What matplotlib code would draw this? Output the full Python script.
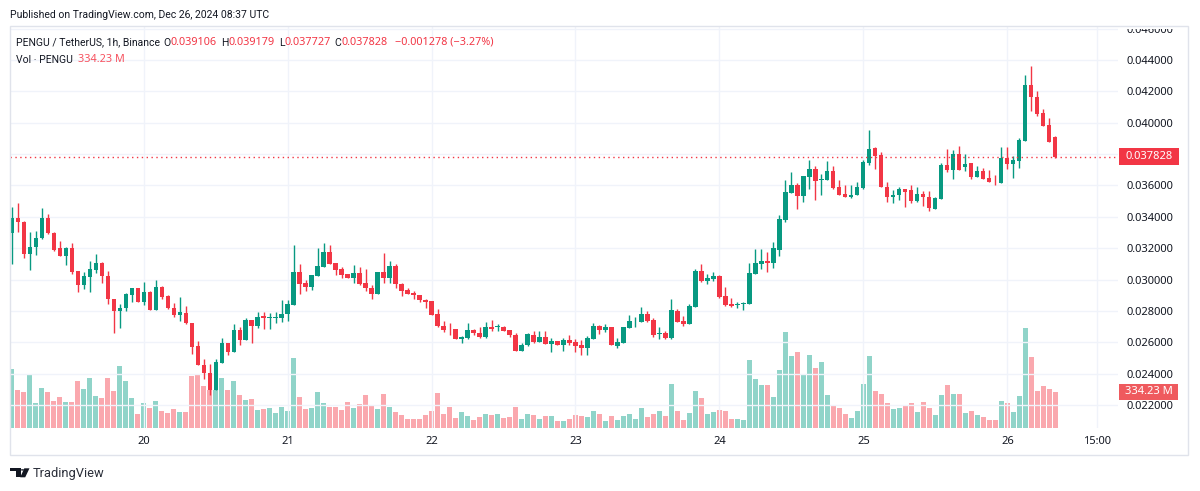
import numpy as np
import pandas as pd
import matplotlib
matplotlib.use("Agg")
import matplotlib.pyplot as plt
import matplotlib.dates as mdates
from matplotlib.patches import Rectangle, Polygon, Circle
from matplotlib.transforms import IdentityTransform

plt.rcParams['font.family'] = ['Noto Sans', 'DejaVu Sans']

# hourly candles, PENGU/USDT (Binance), Dec 19 02:00 -> Dec 26 08:00 UTC
times = pd.date_range("2024-12-19 02:00", periods=175, freq="h")

opens = np.array([
    32.95, 33.90, 33.70, 31.62, 32.06, 32.63, 33.94, 32.99, 32.00, 31.50,
    32.04, 30.52, 29.66, 30.15, 30.61, 31.05, 30.20, 28.74, 28.02, 28.21,
    29.00, 29.43, 28.59, 29.22, 28.08, 29.52, 28.95, 28.17, 27.71, 27.88,
    27.24, 25.74, 24.55, 24.03, 22.97, 24.70, 25.95, 25.40, 26.78, 26.14,
    27.41, 27.05, 27.65, 27.56, 27.57, 27.56, 27.80, 28.39, 30.47, 29.79,
    29.54, 30.24, 30.80, 31.75, 31.05, 30.66, 30.38, 30.13, 30.43, 29.79,
    29.47, 29.10, 30.50, 30.13, 30.88, 29.73, 29.35, 29.16, 29.03, 28.71,
    28.65, 27.80, 27.06, 26.85, 26.85, 26.19, 26.28, 26.78, 26.61, 26.32,
    27.00, 26.98, 27.00, 26.78, 26.49, 25.43, 25.81, 26.47, 26.04, 26.32,
    25.92, 26.09, 25.85, 26.15, 26.00, 25.83, 25.66, 26.23, 27.04, 26.78,
    26.97, 25.77, 25.98, 26.93, 27.33, 27.31, 27.82, 27.44, 26.55, 26.59,
    26.28, 28.01, 27.35, 27.18, 28.27, 30.55, 29.89, 30.03, 30.24, 28.95,
    28.46, 28.36, 28.46, 28.46, 30.37, 30.97, 31.20, 31.05, 31.90, 33.81,
    35.52, 36.01, 35.33, 36.54, 37.03, 36.35, 36.37, 36.90, 35.89, 35.44,
    35.27, 35.40, 35.82, 37.43, 38.37, 37.93, 35.93, 35.25, 35.37, 35.80,
    35.68, 34.99, 35.48, 35.29, 34.47, 35.12, 37.28, 36.98, 37.99, 37.18,
    37.41, 36.57, 36.90, 36.47, 36.25, 36.15, 37.76, 37.37, 37.56, 38.83,
    42.43, 41.66, 40.63, 39.86, 39.106]) / 1000

highs = np.array([
    34.65, 34.90, 33.75, 33.05, 33.10, 34.57, 34.20, 33.05, 32.46, 32.10,
    32.36, 30.52, 30.46, 31.20, 31.66, 31.10, 30.52, 28.78, 28.42, 29.14,
    29.43, 29.43, 29.87, 29.28, 29.96, 29.58, 29.00, 28.50, 28.89, 28.30,
    27.24, 26.08, 24.95, 24.60, 24.95, 26.30, 25.95, 27.16, 26.99, 27.55,
    27.41, 27.90, 27.93, 27.87, 27.94, 28.68, 28.68, 32.20, 30.97, 30.00,
    30.28, 32.00, 32.35, 32.20, 31.05, 30.80, 30.38, 30.94, 30.81, 30.68,
    29.67, 30.50, 31.70, 31.20, 31.00, 29.77, 29.43, 29.24, 29.03, 28.78,
    28.65, 28.12, 27.38, 27.23, 26.85, 26.40, 27.23, 26.87, 26.95, 27.31,
    27.42, 27.19, 27.06, 26.78, 26.61, 25.94, 26.61, 26.73, 26.72, 26.72,
    26.26, 26.09, 26.30, 26.49, 26.19, 26.15, 26.40, 27.25, 27.12, 27.19,
    26.97, 26.30, 26.97, 27.76, 27.60, 28.26, 27.99, 27.52, 26.99, 26.72,
    28.75, 28.10, 27.65, 28.46, 30.68, 30.97, 30.34, 30.48, 30.29, 29.54,
    28.82, 28.57, 28.57, 31.05, 31.96, 31.96, 31.75, 32.39, 34.12, 36.33,
    36.86, 36.14, 36.63, 37.60, 37.22, 36.71, 37.54, 37.22, 36.37, 36.01,
    36.01, 36.25, 37.60, 39.51, 38.45, 38.12, 36.25, 35.68, 35.93, 35.80,
    36.00, 35.87, 35.65, 35.63, 35.25, 37.41, 38.31, 38.25, 38.50, 37.99,
    37.41, 37.22, 37.11, 36.96, 36.64, 38.44, 38.44, 37.90, 39.02, 43.07,
    43.61, 42.04, 40.86, 40.28, 39.179]) / 1000

lows = np.array([
    30.97, 33.05, 31.37, 30.60, 31.56, 32.57, 32.90, 31.83, 31.50, 30.93,
    30.36, 29.22, 29.41, 29.22, 30.40, 29.79, 28.46, 26.60, 26.88, 28.00,
    28.59, 28.59, 28.38, 28.08, 28.08, 28.76, 28.13, 27.58, 27.37, 27.16,
    25.27, 24.55, 23.68, 22.65, 22.97, 24.70, 25.20, 25.40, 25.82, 26.14,
    25.97, 26.90, 26.85, 26.84, 27.26, 27.30, 27.37, 28.39, 29.10, 29.30,
    29.35, 30.24, 30.80, 31.00, 30.30, 30.10, 30.13, 29.80, 29.67, 29.30,
    28.73, 29.10, 29.80, 29.77, 29.43, 28.92, 29.05, 28.73, 28.54, 28.18,
    27.76, 26.96, 26.66, 26.44, 26.19, 25.94, 26.23, 26.49, 26.27, 26.27,
    26.74, 26.70, 26.70, 26.36, 25.43, 25.43, 25.77, 25.96, 26.00, 25.92,
    25.41, 25.85, 25.47, 25.85, 25.37, 25.22, 25.22, 26.19, 26.55, 26.64,
    25.81, 25.64, 25.98, 26.93, 27.00, 27.31, 27.29, 26.36, 26.19, 26.23,
    26.23, 27.31, 27.04, 27.18, 28.27, 29.85, 29.72, 29.90, 28.84, 28.34,
    28.27, 28.20, 28.08, 28.42, 30.37, 30.65, 30.48, 30.75, 31.52, 33.68,
    35.52, 34.49, 34.95, 35.78, 35.08, 35.40, 36.37, 35.78, 35.40, 35.27,
    35.20, 35.40, 35.78, 37.31, 37.05, 35.89, 34.92, 34.86, 35.07, 34.60,
    34.86, 34.93, 34.67, 34.39, 34.47, 35.12, 36.83, 36.40, 36.96, 36.90,
    36.38, 36.53, 36.40, 36.21, 36.04, 36.15, 37.05, 36.47, 37.13, 38.83,
    40.76, 40.43, 39.81, 38.74, 37.727]) / 1000

closes = np.array([
    33.90, 33.64, 31.62, 32.10, 32.67, 33.94, 32.95, 31.87, 31.50, 32.04,
    30.48, 29.66, 30.20, 30.65, 31.05, 30.20, 28.74, 28.02, 28.17, 29.05,
    29.43, 28.59, 29.18, 28.08, 29.54, 28.91, 28.17, 27.71, 27.90, 27.22,
    25.70, 24.55, 24.03, 22.97, 24.74, 25.95, 25.40, 26.78, 26.16, 27.41,
    27.05, 27.60, 27.56, 27.60, 27.59, 27.80, 28.43, 30.47, 29.70, 29.54,
    30.28, 30.86, 31.75, 31.00, 30.62, 30.28, 30.13, 30.43, 29.71, 29.43,
    29.10, 30.50, 30.13, 30.88, 29.69, 29.30, 29.10, 28.99, 28.67, 28.59,
    27.76, 27.02, 26.80, 26.82, 26.19, 26.36, 26.78, 26.57, 26.32, 27.00,
    26.87, 27.02, 26.74, 26.44, 25.43, 25.85, 26.55, 26.00, 26.32, 25.92,
    26.09, 25.85, 26.15, 25.98, 25.77, 25.66, 26.28, 27.04, 26.78, 26.97,
    25.85, 26.02, 26.97, 27.36, 27.36, 27.82, 27.38, 26.49, 26.57, 26.28,
    28.05, 27.31, 27.18, 28.31, 30.55, 29.89, 30.08, 30.24, 28.89, 28.40,
    28.34, 28.46, 28.52, 30.41, 31.05, 31.20, 31.05, 32.00, 33.85, 35.57,
    36.01, 35.33, 36.59, 37.03, 36.29, 36.37, 36.90, 35.82, 35.40, 35.27,
    35.38, 35.89, 37.48, 38.30, 37.86, 35.89, 35.25, 35.42, 35.80, 35.57,
    34.99, 35.48, 35.25, 34.54, 35.18, 37.28, 36.98, 37.99, 36.96, 37.35,
    36.53, 36.90, 36.40, 36.21, 36.21, 37.76, 37.37, 37.65, 38.89, 42.43,
    41.61, 40.58, 39.81, 38.74, 37.828]) / 1000

# volume in millions of PENGU
volumes = np.array([
    552, 354, 336, 496, 232, 373, 336, 251, 289, 242,
    242, 439, 364, 467, 298, 279, 467, 345, 580, 439,
    279, 129, 232, 185, 251, 157, 138, 176, 147, 147,
    486, 505, 392, 354, 354, 467, 354, 439, 307, 260,
    270, 166, 176, 185, 138, 194, 157, 656, 289, 176,
    185, 336, 232, 194, 194, 166, 242, 185, 223, 307,
    210, 176, 317, 194, 147, 119, 82, 82, 82, 119,
    157, 326, 129, 194, 91, 147, 110, 72, 100, 129,
    119, 129, 91, 100, 194, 82, 129, 119, 82, 110,
    110, 63, 63, 82, 119, 110, 100, 157, 129, 63,
    110, 72, 110, 129, 82, 185, 100, 129, 157, 110,
    411, 157, 72, 138, 345, 279, 129, 147, 166, 157,
    82, 82, 72, 637, 458, 402, 402, 289, 543, 900,
    675, 712, 496, 684, 562, 618, 307, 204, 185, 129,
    91, 157, 411, 675, 345, 317, 232, 176, 185, 213,
    232, 147, 242, 185, 119, 307, 402, 317, 317, 138,
    157, 119, 100, 72, 72, 251, 232, 147, 298, 938,
    662, 345, 392, 364, 334.23])

price_ticks = [0.022, 0.024, 0.026, 0.028, 0.030, 0.032, 0.034,
               0.036, 0.038, 0.040, 0.042, 0.044, 0.046]
time_ticks = pd.to_datetime(["2024-12-20 00:00", "2024-12-21 00:00", "2024-12-22 00:00",
                             "2024-12-23 00:00", "2024-12-24 00:00", "2024-12-25 00:00",
                             "2024-12-26 00:00", "2024-12-26 15:00"])
time_labels = ["20", "21", "22", "23", "24", "25", "26", "15:00"]

UP = '#089981'
DOWN = '#F23645'
TXT = '#131722'
GRID = '#f0f3fa'
LBL_FONT = ['Roboto', 'DejaVu Sans']
NUM_FONT = ['Noto Sans', 'DejaVu Sans']

W, H = 1200, 491
fig = plt.figure(figsize=(12, 4.91), dpi=100)
fig.patch.set_facecolor('white')
px = IdentityTransform()   # display pixels, origin bottom-left

def fx(x):
    return x / W

def fy(y):
    return 1 - y / H

ax = fig.add_axes([fx(10), fy(427.5), fx(1118) - fx(10), fy(26) - fy(427.5)])
axv = ax.twinx()
ax.set_zorder(2)
axv.set_zorder(1)
ax.patch.set_visible(False)

x = mdates.date2num(times)
hour = 1 / 24
up = closes >= opens
last = closes[-1]

# volume underneath
vcol = np.where(up, '#22ab94', '#f7525f')
axv.bar(x, volumes, width=0.78 * hour, color=vcol, alpha=0.5, linewidth=0)
axv.set_ylim(0, 3780)
axv.set_yticks([])
for s in axv.spines.values():
    s.set_visible(False)

# candles
ccol = np.where(up, UP, DOWN)
ax.vlines(x, lows, highs, colors=ccol, linewidth=1, zorder=3)
body = np.maximum(np.abs(closes - opens), 0.00003)
ax.bar(x, body, bottom=np.minimum(opens, closes), width=0.7 * hour,
       color=ccol, linewidth=0, zorder=4)

ax.set_xlim(x[0] - 0.28 * hour, x[0] + 184.45 * hour)
ax.set_ylim(0.020565, 0.046168)

ax.set_yticks(price_ticks)
ax.yaxis.tick_right()
# the price scale hides a tick label that sits under the last-price marker
ax.yaxis.set_major_formatter(plt.FuncFormatter(
    lambda v, p: '' if abs(v - last) < 0.0005 else f"{v:.6f}"))
ax.set_xticks(mdates.date2num(time_ticks))
ax.set_xticklabels(time_labels)
ax.tick_params(axis='both', length=0, labelsize=8, colors=TXT)
ax.tick_params(axis='y', pad=6)
ax.tick_params(axis='x', pad=6)
ax.grid(True, color=GRID, linewidth=1, zorder=0)
ax.set_axisbelow(True)
for s in ax.spines.values():
    s.set_visible(False)

ax.axhline(last, color=DOWN, linewidth=1, linestyle=(0, (1, 2.5)), zorder=5)

# mask above the panel so the top price label is cut like in TradingView
fig.add_artist(Rectangle((1119, H - 28.6), 70, 28.6, transform=px, fc='white', ec='none', zorder=5))

# price-scale markers
yl = ax.transData.transform((x[0], last))[1]
fig.add_artist(Rectangle((1119, yl - 8.5), 60, 17, transform=px, fc=DOWN, ec='none', zorder=6))
fig.text(1149, yl, f"{last:.6f}", transform=px, ha='center', va='center', color='white',
         fontsize=8, fontweight='bold', zorder=7)
yv = axv.transData.transform((x[0], volumes[-1]))[1]
fig.add_artist(Rectangle((1119, yv - 8), 59, 16, transform=px, fc='#ef5a5e', ec='none', zorder=6))
fig.text(1148.5, yv, f"{volumes[-1]:.2f} M", transform=px, ha='center', va='center',
         color='white', fontsize=8, fontweight='bold', zorder=7)

# panel frame
fig.add_artist(Rectangle((fx(10), fy(455)), fx(1188) - fx(10), fy(26) - fy(455),
                         transform=fig.transFigure, fill=False, ec='#e0e3eb', lw=1, zorder=8))

# header
renderer = fig.canvas.get_renderer()

def chain(pieces, x0, y):
    cx = x0
    for s, gap, c, fam, size in pieces:
        cx += gap
        t = fig.text(fx(cx), fy(y), s, fontsize=size, color=c, va='center', family=fam)
        cx += t.get_window_extent(renderer).width

fig.text(fx(10), fy(14.5), "Published on TradingView.com, Dec 26, 2024 08:37 UTC",
         fontsize=7.5, color=TXT, va='center', family=LBL_FONT)
chg = closes[-1] - opens[-1]
pct = chg / opens[-1] * 100
L = (LBL_FONT, 7.5)
N = (NUM_FONT, 7.8)
chain([("PENGU / TetherUS, 1h, Binance", 0, TXT, *L),
       ("O", 3, TXT, *L), (f"{opens[-1]:.6f}", 0, DOWN, *N),
       ("H", 4.5, TXT, *L), (f"{highs[-1]:.6f}", 0, DOWN, *N),
       ("L", 4.5, TXT, *L), (f"{lows[-1]:.6f}", 0, DOWN, *N),
       ("C", 4, TXT, *L), (f"{closes[-1]:.6f}", 0, DOWN, *N),
       (f"\u2212{abs(chg):.6f} (\u2212{abs(pct):.2f}%)", 7, DOWN, *N)], 16, 42.5)
chain([("Vol \u00b7 PENGU", 0, TXT, *L), (f"{volumes[-1]:.2f} M", 5, '#f7525f', *N)], 16, 60)

# TradingView logo
logo = '#131722'
fig.add_artist(Rectangle((fx(10), fy(471.3)), fx(20.7) - fx(10), fy(468.3) - fy(471.3),
                         transform=fig.transFigure, fc=logo, ec='none'))
fig.add_artist(Rectangle((fx(15.5), fy(477.3)), fx(20.7) - fx(15.5), fy(468.3) - fy(477.3),
                         transform=fig.transFigure, fc=logo, ec='none'))
fig.add_artist(Polygon([(fx(24.3), fy(468.3)), (fx(29.5), fy(468.3)),
                        (fx(25.2), fy(477.3)), (fx(20.2), fy(477.3))],
                       closed=True, transform=fig.transFigure, fc=logo, ec='none'))
fig.add_artist(Circle((fx(22.4), fy(469.9)), 1.7 / W, transform=fig.transFigure,
                      fc=logo, ec='none'))
fig.text(fx(33), fy(473), "TradingView", fontsize=9.3, color='#2a2e39', va='center',
         family=LBL_FONT)

fig.savefig("out.png", dpi=100)
